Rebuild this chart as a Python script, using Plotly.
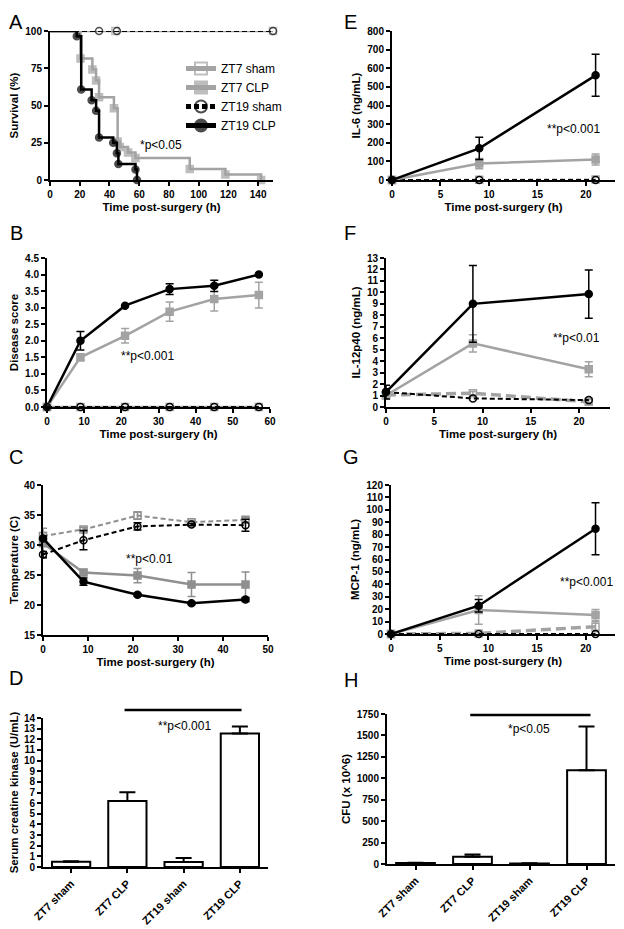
import plotly.graph_objects as go

W, H = 624, 929
OFF = 8  # the page body adds an 8px margin, so layout positions are pulled back by it
FONT = "Liberation Sans"
BLACK = "black"
GRAY = "#a3a3a3"
GRAY_C = "#8f8f8f"

# ---- A: survival (Kaplan-Meier) ----
a_zt7_sham_t = [0, 44, 150]
a_zt7_sham_s = [100, 100, 100]
a_zt7_clp_t = [0, 20.5, 28.5, 31, 33, 43, 45.5, 47, 52.5, 57.5, 94, 118, 142]
a_zt7_clp_s = [100, 81.5, 74.1, 66.7, 55.6, 48.1, 25.9, 22.2, 18.5, 14.8, 7.4, 3.7, 0]
a_zt19_sham_t = [0, 33, 45, 150]
a_zt19_sham_s = [100, 100, 100, 100]
a_zt19_clp_t = [0, 18, 21, 28, 31, 33, 42.5, 45, 46, 57.5, 58.5]
a_zt19_clp_s = [100, 96.4, 60.7, 53.6, 46.4, 28.6, 25.0, 17.9, 10.7, 7.1, 0]

# ---- B: disease score ----
b_t = [0, 9, 21, 33, 45, 57]
b_zt7_sham = [0, 0, 0, 0, 0, 0]
b_zt7_clp = [0, 1.5, 2.15, 2.88, 3.26, 3.38]
b_zt7_clp_err = [0, 0.1, 0.22, 0.29, 0.36, 0.39]
b_zt19_sham = [0, 0, 0, 0, 0, 0]
b_zt19_clp = [0, 2.0, 3.06, 3.56, 3.66, 4.0]
b_zt19_clp_err = [0, 0.28, 0, 0.16, 0.17, 0]

# ---- C: temperature ----
c_t = [0, 9, 21, 33, 45]
c_zt7_sham = [31.5, 32.6, 34.9, 33.8, 34.2]
c_zt7_sham_err = [0.6, 0.3, 0.6, 0.3, 0.4]
c_zt7_clp = [30.3, 25.4, 24.9, 23.4, 23.4]
c_zt7_clp_err = [2.5, 0.5, 1.2, 2.0, 2.1]
c_zt19_sham = [28.4, 30.8, 33.1, 33.4, 33.3]
c_zt19_sham_err = [0.5, 1.6, 0.6, 0.2, 1.0]
c_zt19_clp = [31.1, 23.9, 21.7, 20.3, 20.9]
c_zt19_clp_err = [0.4, 0.6, 0.2, 0.2, 0.3]

# ---- D / H: bar groups ----
groups = ["ZT7 sham", "ZT7 CLP", "ZT19 sham", "ZT19 CLP"]
d_ck = [0.5, 6.2, 0.47, 12.55]
d_ck_err = [0.05, 0.82, 0.38, 0.65]
h_cfu = [12, 85, 6, 1093]
h_cfu_err = [3, 25, 2, 512]

# ---- E/F/G: cytokines ----
cyt_t = [0, 9, 21]
e_zt7_sham = [0, 2, 3]
e_zt7_clp = [0, 88, 110]
e_zt7_clp_err = [0, 27, 30]
e_zt19_sham = [0, 0, 0]
e_zt19_clp = [0, 170, 562]
e_zt19_clp_err = [0, 60, 113]

f_zt7_sham = [1.05, 1.2, 0.45]
f_zt7_sham_err = [0.1, 0.15, 0.2]
f_zt7_clp = [1.0, 5.55, 3.3]
f_zt7_clp_err = [0.2, 0.75, 0.65]
f_zt19_sham = [1.3, 0.75, 0.6]
f_zt19_clp = [1.3, 9.0, 9.85]
f_zt19_clp_err = [0.6, 3.35, 2.1]

g_zt7_sham = [0, 0.5, 5.9]
g_zt7_sham_err = [0, 0.5, 4]
g_zt7_clp = [0, 19.3, 15.3]
g_zt7_clp_err = [0, 11.5, 4.5]
g_zt19_sham = [0, 0, 0]
g_zt19_clp = [0, 22.8, 84.8]
g_zt19_clp_err = [0, 5, 21]


def px_x(v):
    return (v - OFF) / W


def px_y(v):
    return 1 - (v - OFF) / H


def err(arr, color):
    return dict(type="data", array=arr, color=color, thickness=1.5, width=4, visible=True)


fig = go.Figure()


def line(n, x, y, color, symbol, dash="solid", width=2.5, e=None, name=None, sizes=7, shape="linear"):
    ax = "" if n == 1 else str(n)
    fig.add_trace(go.Scatter(
        x=x, y=y, xaxis="x" + ax, yaxis="y" + ax, mode="lines+markers",
        line=dict(color=color, width=width, dash=dash, shape=shape),
        marker=dict(color=color, symbol=symbol, size=sizes, line=dict(color=color, width=1.5)),
        error_y=err(e, color) if e is not None else None,
        name=name, showlegend=name is not None, cliponaxis=False))


# A
nomark = lambda t: [0] + [7] * (len(t) - 1)
line(1, a_zt7_sham_t, a_zt7_sham_s, GRAY, "square-open", name="ZT7 sham", sizes=nomark(a_zt7_sham_t), shape="hv")
line(1, a_zt7_clp_t, a_zt7_clp_s, GRAY, "square", name="ZT7 CLP", sizes=nomark(a_zt7_clp_t), shape="hv")
line(1, a_zt19_sham_t, a_zt19_sham_s, BLACK, "circle-open", dash="5px,3px", width=2, name="ZT19 sham",
     sizes=nomark(a_zt19_sham_t), shape="hv")
line(1, a_zt19_clp_t, a_zt19_clp_s, BLACK, "circle", name="ZT19 CLP", sizes=nomark(a_zt19_clp_t), shape="hv")

# B
line(2, b_t, b_zt7_clp, GRAY, "square", e=b_zt7_clp_err)
line(2, b_t, b_zt19_clp, BLACK, "circle", e=b_zt19_clp_err)
line(2, b_t, b_zt7_sham, GRAY, "square-open")
line(2, b_t, b_zt19_sham, BLACK, "circle-open", dash="5px,3px", width=2)

# C
line(3, c_t, c_zt7_sham, GRAY_C, "square-open", dash="5px,3px", width=2, e=c_zt7_sham_err)
line(3, c_t, c_zt7_clp, GRAY_C, "square", e=c_zt7_clp_err)
line(3, c_t, c_zt19_sham, BLACK, "circle-open", dash="5px,3px", width=2, e=c_zt19_sham_err)
line(3, c_t, c_zt19_clp, BLACK, "circle", e=c_zt19_clp_err)

# E
line(5, cyt_t, e_zt7_sham, GRAY, "square-open", dash="5px,3px", width=2)
line(5, cyt_t, e_zt19_sham, BLACK, "circle-open", dash="5px,3px", width=2)
line(5, cyt_t, e_zt7_clp, GRAY, "square", e=e_zt7_clp_err)
line(5, cyt_t, e_zt19_clp, BLACK, "circle", e=e_zt19_clp_err)

# F
line(6, cyt_t, f_zt7_sham, GRAY, "square-open", dash="10px,5px", width=3.5, e=f_zt7_sham_err)
line(6, cyt_t, f_zt19_sham, BLACK, "circle-open", dash="5px,3px", width=2)
line(6, cyt_t, f_zt7_clp, GRAY, "square", e=f_zt7_clp_err)
line(6, cyt_t, f_zt19_clp, BLACK, "circle", e=f_zt19_clp_err)

# G
line(7, cyt_t, g_zt7_sham, GRAY, "square-open", dash="10px,5px", width=3.5, e=g_zt7_sham_err)
line(7, cyt_t, g_zt19_sham, BLACK, "circle-open", dash="5px,3px", width=2)
line(7, cyt_t, g_zt7_clp, GRAY, "square", e=g_zt7_clp_err)
line(7, cyt_t, g_zt19_clp, BLACK, "circle", e=g_zt19_clp_err)

# D and H bars
for n, vals, errs in [(4, d_ck, d_ck_err), (8, h_cfu, h_cfu_err)]:
    fig.add_trace(go.Bar(
        x=groups, y=vals, xaxis="x%d" % n, yaxis="y%d" % n, width=0.68,
        marker=dict(color="white", line=dict(color=BLACK, width=2)),
        error_y=dict(type="data", array=errs, arrayminus=[0] * len(errs), symmetric=False,
                     color=BLACK, thickness=2, width=8),
        showlegend=False))

tickfont = dict(family=FONT, size=10, color=BLACK, weight="bold")
catfont = dict(family=FONT, size=11, color=BLACK, weight="bold")
titlefont = dict(family=FONT, size=11.5, color=BLACK, weight="bold")

panels = {
    # n: (x0, x1, ytop, ybottom, xrange, xticks, yrange, yticks, xtitle, ytitle)
    1: (50, 273, 31, 180, [0, 150], list(range(0, 141, 20)), [0, 100], [0, 25, 50, 75, 100], True, "Survival (%)"),
    2: (47, 270, 258, 407, [0, 60], list(range(0, 61, 10)), [0, 4.5], [i * 0.5 for i in range(10)], True, "Disease score"),
    3: (43, 268, 485, 635, [0, 50], list(range(0, 51, 10)), [15, 40], list(range(15, 41, 5)), True, "Temperature (C)"),
    4: (43, 268, 718, 867, [-0.5, 3.5], None, [0, 14], list(range(0, 15)), False, "Serum creatine kinase (U/mL)"),
    5: (392, 615, 31, 180, [0, 23], list(range(0, 21, 5)), [0, 800], list(range(0, 801, 100)), True, "IL-6 (ng/mL)"),
    6: (386, 610, 258, 407, [0, 23.2], list(range(0, 21, 5)), [0, 13], list(range(0, 14)), True, "IL-12p40 (ng/mL)"),
    7: (391, 615, 485, 634, [0, 23], list(range(0, 21, 5)), [0, 120], list(range(0, 121, 10)), True, "MCP-1 (ng/mL)"),
    8: (387, 615, 714, 864, [-0.5, 3.5], None, [0, 1750], list(range(0, 1751, 250)), False, "CFU (x 10^6)"),
}

axis_common = dict(showline=True, linecolor=BLACK, linewidth=2, ticks="outside", ticklen=4,
                   tickwidth=2, tickcolor=BLACK, showgrid=False, zeroline=False, tickfont=tickfont,
                   automargin=False)

layout = {}
for n, (x0, x1, yt, yb, xr, xt, yr, yt_vals, xtitle, ytitle) in panels.items():
    ax = "" if n == 1 else str(n)
    xa = dict(axis_common, domain=[px_x(x0), px_x(x1)], range=xr, anchor="y" + ax)
    if xt is not None:
        xa.update(tickmode="array", tickvals=xt)
    else:
        xa.update(tickangle=-45, type="category", tickfont=catfont)
    if xtitle:
        xa["title"] = dict(text="Time post-surgery (h)", font=titlefont, standoff=4)
    ya = dict(axis_common, domain=[px_y(yb), px_y(yt)], range=yr, anchor="x" + ax,
              tickmode="array", tickvals=yt_vals,
              title=dict(text=ytitle, font=titlefont, standoff=4))
    if n == 2:
        ya["tickformat"] = ".1f"
    layout["xaxis" + ax] = xa
    layout["yaxis" + ax] = ya

fig.update_layout(**layout)


def ann(text, x, y, size=12):
    return dict(text=text, x=px_x(x), y=px_y(y), xref="paper", yref="paper", showarrow=False,
                xanchor="center", yanchor="middle",
                font=dict(family=FONT, size=size, color=BLACK))


annotations = []
# panel letters (kept a few px inside the drawable area)
for letter, lx, ly in [("A", 16, 22), ("B", 16, 233), ("C", 16, 457), ("D", 16, 678),
                       ("E", 350, 22), ("F", 350, 233), ("G", 351, 457), ("H", 351, 680)]:
    annotations.append(ann(letter, lx, ly, size=20))
for text, tx, ty in [("*p<0.05", 161, 145), ("**p<0.001", 147, 356), ("**p<0.01", 149, 559),
                     ("**p<0.001", 184, 726), ("**p<0.001", 573, 129), ("**p<0.01", 576, 338),
                     ("**p<0.001", 586, 582), ("*p<0.05", 529, 729)]:
    annotations.append(ann(text, tx, ty, size=12))

shapes = [
    dict(type="line", xref="x4", yref="paper", x0=0.95, x1=3.03, y0=px_y(710), y1=px_y(710),
         line=dict(color=BLACK, width=2.5)),
    dict(type="line", xref="x8", yref="paper", x0=0.96, x1=3.07, y0=px_y(715), y1=px_y(715),
         line=dict(color=BLACK, width=2.5)),
]

fig.update_layout(
    width=W, height=H, margin=dict(l=0, r=0, t=0, b=0, pad=0, autoexpand=False),
    paper_bgcolor="white", plot_bgcolor="white",
    annotations=annotations, shapes=shapes,
    legend=dict(x=px_x(181), y=px_y(54), xanchor="left", yanchor="top",
                font=dict(family=FONT, size=12, color=BLACK), bgcolor="rgba(0,0,0,0)",
                tracegroupgap=0, itemwidth=30, itemsizing="constant"),
)

fig.write_html("out.html")
